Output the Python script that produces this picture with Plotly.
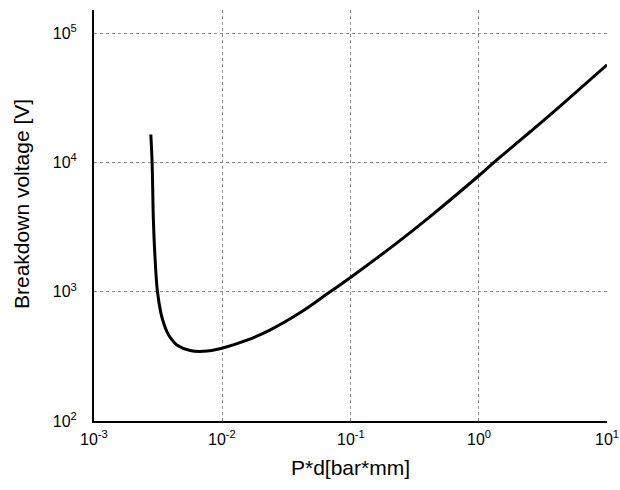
import math
import plotly.graph_objects as go

# Data (Paschen curve)
pd_values = [0.002773, 0.002838, 0.002904, 0.002997, 0.003125, 0.003322, 0.003428,
             0.003700, 0.004000, 0.004427, 0.005623, 0.007145, 0.009947, 0.0156,
             0.0237, 0.0406, 0.0698, 0.1, 0.2316, 0.4217, 1.0, 1.28, 1.778,
             2.548, 4.64, 10.0]
voltage = [16480, 10040, 3614, 1770, 1000, 687, 607,
           492, 432, 388, 351, 346, 366, 422,
           507, 690, 1004, 1290, 2400, 3850, 7900, 9800, 12900,
           17450, 29100, 57000]

x_ticks = [0.001, 0.01, 0.1, 1, 10]
x_ticktext = ["10<sup>-3</sup>", "10<sup>-2</sup>", "10<sup>-1</sup>", "10<sup>0</sup>", "10<sup>1</sup>"]
y_ticks = [100, 1000, 10000, 100000]
y_ticktext = ["10<sup>2</sup>", "10<sup>3</sup>", "10<sup>4</sup>", "10<sup>5</sup>"]

font = "Liberation Sans, Arial, sans-serif"

fig = go.Figure()
fig.add_trace(go.Scatter(
    x=pd_values, y=voltage, mode="lines",
    line=dict(color="black", width=3, shape="spline", smoothing=1.1),
    showlegend=False, hoverinfo="skip"))

annotations = [dict(
    text=t, x=math.log10(v), xref="x", y=0, yref="paper",
    xanchor="center", yanchor="top", yshift=-5, showarrow=False,
    font=dict(size=16, family=font, color="black"))
    for v, t in zip(x_ticks, x_ticktext)]
annotations.append(dict(
    text="P*d[bar*mm]", xref="paper", yref="paper", x=0.5, y=0,
    xanchor="center", yanchor="middle", yshift=-46, showarrow=False,
    font=dict(size=21, family=font, color="black")))
annotations.append(dict(
    text="Breakdown voltage [V]", textangle=-90,
    xref="paper", yref="paper", x=0, y=0.528,
    xanchor="center", yanchor="middle", xshift=-72,
    showarrow=False, font=dict(size=21, family=font, color="black")))

fig.update_layout(
    width=620, height=490,
    margin=dict(l=94, r=13, t=10, b=69),
    paper_bgcolor="white", plot_bgcolor="white",
    font=dict(family=font, color="black", size=16),
    xaxis=dict(
        type="log", range=[-3, 1], automargin=False,
        tickmode="array", tickvals=x_ticks, showticklabels=False,
        showgrid=True, gridcolor="#8c8c8c", griddash="dot", gridwidth=1,
        showline=True, linecolor="black", linewidth=2,
        ticks="", zeroline=False,
    ),
    yaxis=dict(
        type="log", range=[2, 5.18], automargin=False,
        tickmode="array", tickvals=y_ticks, ticktext=y_ticktext, ticklabeloverflow="allow",
        showgrid=True, gridcolor="#8c8c8c", griddash="dot", gridwidth=1,
        showline=True, linecolor="black", linewidth=2,
        ticks="", ticklabelstandoff=12, zeroline=False,
        tickfont=dict(size=16, family=font),
    ),
    annotations=annotations,
)

# Remove the default page margin so the 620x490 figure fills the window exactly.
fig.write_html(
    "out.html",
    config={"displayModeBar": False},
    post_script="document.body.style.margin='0';"
                "document.body.style.overflow='hidden';"
                "document.documentElement.style.overflow='hidden';",
)
